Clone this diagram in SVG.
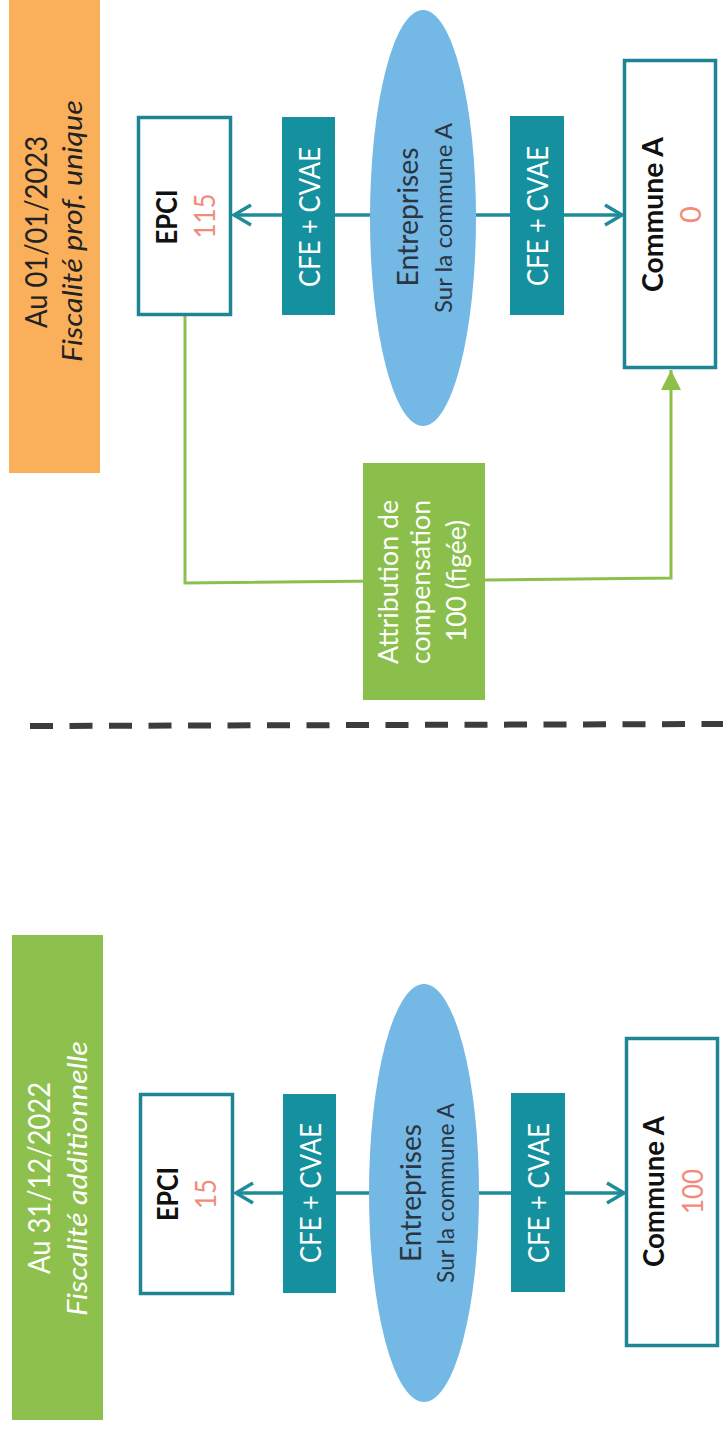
<svg xmlns="http://www.w3.org/2000/svg" width="723" height="1431" viewBox="0 0 723 1431">
<style>
text{font-family:Lato,"Liberation Sans",sans-serif;text-anchor:middle;lengthAdjust:spacingAndGlyphs}
.box{fill:#fff;stroke:#1E8595;stroke-width:3.5}
.tag{fill:#14909E}
.ell{fill:#74B8E6}
.tagt{fill:#fff;font-size:29px}
.name{fill:#111;font-size:29px;font-weight:bold}
.num{fill:#F28B7B;font-size:29px}
.ent{fill:#2B3540;font-size:29px}
.sur{fill:#2B3540;font-size:24px}
.ban{font-size:30px}
.sub{font-size:27px;font-style:italic}
.att{fill:#fff;font-size:27px}
.tl{fill:none;stroke:#1E8C9A;stroke-width:3.5}
.gl{fill:none;stroke:#8CC04B;stroke-width:3}
</style>
<defs>
<marker id="chev" markerUnits="userSpaceOnUse" markerWidth="22" markerHeight="24" refX="17" refY="10" orient="auto" viewBox="-2 -2 22 24">
<path d="M0,0 L17,10 L0,20" fill="none" stroke="#1E8C9A" stroke-width="3.5"/>
</marker>
<marker id="tri" markerUnits="userSpaceOnUse" markerWidth="20" markerHeight="22" refX="20" refY="10" orient="auto" viewBox="0 0 20 20">
<path d="M0,0 L20,10 L0,20 z" fill="#8CC04B"/>
</marker>
</defs>

<g id="connectors">
<line class="tl" x1="371" y1="215" x2="234" y2="215" marker-end="url(#chev)"/>
<line class="tl" x1="476" y1="215" x2="622" y2="215" marker-end="url(#chev)"/>
<path class="gl" d="M185,316 V583 L671,578 V370" marker-end="url(#tri)"/>
<line class="tl" x1="369" y1="1193" x2="236" y2="1193" marker-end="url(#chev)"/>
<line class="tl" x1="479" y1="1193" x2="624" y2="1193" marker-end="url(#chev)"/>
<line x1="30" y1="726" x2="723" y2="724" stroke="#3C3C3C" stroke-width="6" stroke-dasharray="23 16.5"/>
</g>

<g id="banner-2023">
<rect x="9" y="0" width="91" height="473" fill="#FAAF5A"/>
<text class="ban" fill="#222" textLength="192" lengthAdjust="spacingAndGlyphs" transform="translate(47,232) rotate(-90)">Au 01/01/2023</text>
<text class="sub" fill="#222" textLength="262" lengthAdjust="spacingAndGlyphs" transform="translate(82,231) rotate(-90)">Fiscalité prof. unique</text>
</g>

<g id="epci-2023">
<rect class="box" x="138.5" y="117.5" width="92" height="197"/>
<text class="name" textLength="55" lengthAdjust="spacingAndGlyphs" transform="translate(177,217) rotate(-90)">EPCI</text>
<text class="num" textLength="45" lengthAdjust="spacingAndGlyphs" transform="translate(215,216) rotate(-90)">115</text>
</g>

<g id="tag-2023-a">
<rect class="tag" x="282" y="117" width="53" height="198"/>
<text class="tagt" textLength="140" lengthAdjust="spacingAndGlyphs" transform="translate(320,217) rotate(-90)">CFE + CVAE</text>
</g>

<g id="entreprises-2023">
<ellipse class="ell" cx="423" cy="218" rx="53" ry="208"/>
<text class="ent" textLength="139" lengthAdjust="spacingAndGlyphs" transform="translate(418,217) rotate(-90)">Entreprises</text>
<text class="sur" textLength="190" lengthAdjust="spacingAndGlyphs" transform="translate(452,218) rotate(-90)">Sur la commune A</text>
</g>

<g id="tag-2023-b">
<rect class="tag" x="510" y="116" width="54" height="199"/>
<text class="tagt" textLength="140" lengthAdjust="spacingAndGlyphs" transform="translate(548,216) rotate(-90)">CFE + CVAE</text>
</g>

<g id="commune-2023">
<rect class="box" x="624.5" y="60.5" width="91" height="307"/>
<text class="name" textLength="155" lengthAdjust="spacingAndGlyphs" transform="translate(663,214.5) rotate(-90)">Commune A</text>
<text class="num" transform="translate(701,214.5) rotate(-90)">0</text>
</g>

<g id="attribution">
<rect x="363" y="463" width="122" height="237" fill="#8BBF4C"/>
<text class="att" textLength="164" lengthAdjust="spacingAndGlyphs" transform="translate(398,582) rotate(-90)">Attribution de</text>
<text class="att" textLength="164" lengthAdjust="spacingAndGlyphs" transform="translate(430,582) rotate(-90)">compensation</text>
<text class="att" textLength="122" lengthAdjust="spacingAndGlyphs" transform="translate(466,581) rotate(-90)">100 (figée)</text>
</g>

<g id="banner-2022">
<rect x="12" y="935" width="91" height="485" fill="#8DC04D"/>
<text class="ban" fill="#fff" textLength="192" lengthAdjust="spacingAndGlyphs" transform="translate(50,1178) rotate(-90)">Au 31/12/2022</text>
<text class="sub" fill="#fff" textLength="275" lengthAdjust="spacingAndGlyphs" transform="translate(87,1178.5) rotate(-90)">Fiscalité additionnelle</text>
</g>

<g id="epci-2022">
<rect class="box" x="140.5" y="1094.5" width="92" height="199"/>
<text class="name" textLength="54" lengthAdjust="spacingAndGlyphs" transform="translate(178,1194) rotate(-90)">EPCI</text>
<text class="num" textLength="30" lengthAdjust="spacingAndGlyphs" transform="translate(216,1194) rotate(-90)">15</text>
</g>

<g id="tag-2022-a">
<rect class="tag" x="283" y="1094" width="53" height="199"/>
<text class="tagt" textLength="140" lengthAdjust="spacingAndGlyphs" transform="translate(321,1193) rotate(-90)">CFE + CVAE</text>
</g>

<g id="entreprises-2022">
<ellipse class="ell" cx="424" cy="1193" rx="55" ry="209"/>
<text class="ent" textLength="138" lengthAdjust="spacingAndGlyphs" transform="translate(421,1193) rotate(-90)">Entreprises</text>
<text class="sur" textLength="180" lengthAdjust="spacingAndGlyphs" transform="translate(454,1193) rotate(-90)">Sur la commune A</text>
</g>

<g id="tag-2022-b">
<rect class="tag" x="511" y="1093" width="54" height="199"/>
<text class="tagt" textLength="140" lengthAdjust="spacingAndGlyphs" transform="translate(549,1193) rotate(-90)">CFE + CVAE</text>
</g>

<g id="commune-2022">
<rect class="box" x="626.5" y="1038.5" width="91" height="307"/>
<text class="name" textLength="151" lengthAdjust="spacingAndGlyphs" transform="translate(664,1191.5) rotate(-90)">Commune A</text>
<text class="num" textLength="45" lengthAdjust="spacingAndGlyphs" transform="translate(703,1191.5) rotate(-90)">100</text>
</g>
</svg>
